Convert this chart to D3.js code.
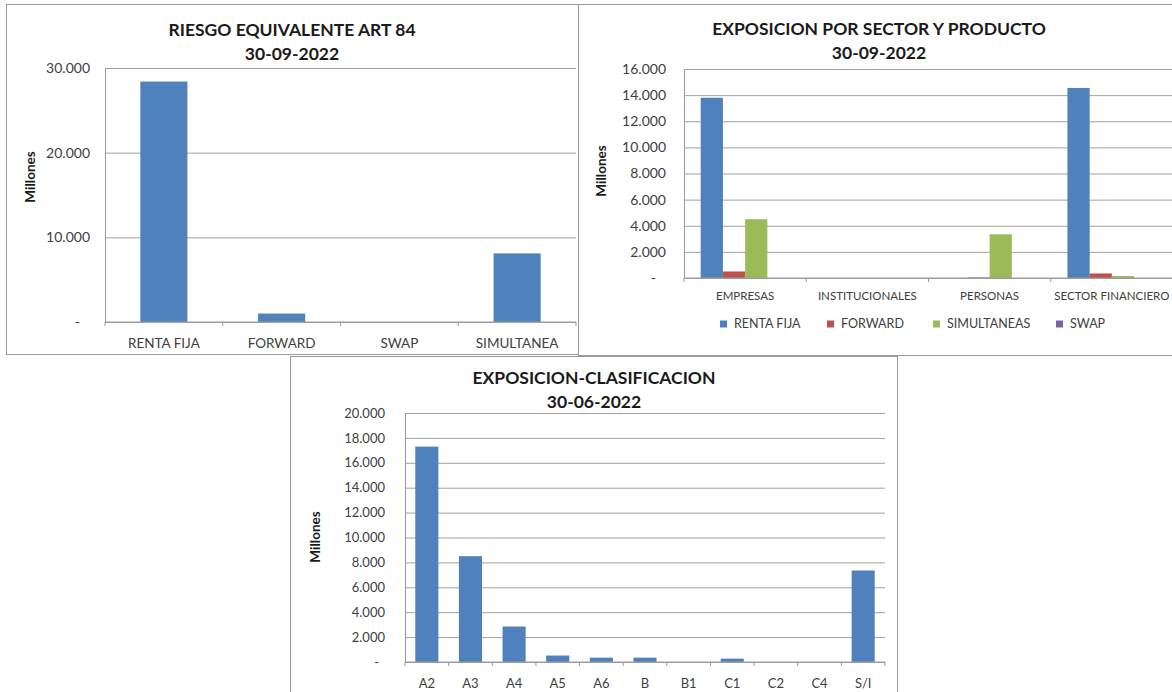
<!DOCTYPE html>
<html>
<head>
<meta charset="utf-8">
<script src="https://d3js.org/d3.v7.min.js"></script>
<style>
  body { margin: 0; background: #fff; }
  text { font-family: Lato, "Open Sans", sans-serif; }
</style>
</head>
<body>
<div id="chart"></div>
<script>
// Riesgo equivalente art 84 (millones)
const riesgoCats = ["RENTA FIJA", "FORWARD", "SWAP", "SIMULTANEA"];
const riesgoValues = [28400, 1000, 0, 8100];
const riesgoTicks = [0, 10000, 20000, 30000];

// Exposicion por sector y producto (millones)
const sectorCats = ["EMPRESAS", "INSTITUCIONALES", "PERSONAS", "SECTOR FINANCIERO"];
const productos = ["RENTA FIJA", "FORWARD", "SIMULTANEAS", "SWAP"];
const rentaFija = [13800, 0, 0, 14550];
const forward = [500, 0, 40, 350];
const simultaneas = [4500, 0, 3350, 150];
const swap = [0, 0, 0, 0];
const sectorTicks = [0, 2000, 4000, 6000, 8000, 10000, 12000, 14000, 16000];

// Exposicion por clasificacion (millones)
const clasifCats = ["A2", "A3", "A4", "A5", "A6", "B", "B1", "C1", "C2", "C4", "S/I"];
const clasifValues = [17300, 8500, 2850, 520, 350, 350, 0, 270, 0, 0, 7350];
const clasifTicks = [0, 2000, 4000, 6000, 8000, 10000, 12000, 14000, 16000, 18000, 20000];

const colors = ["#4F81BD", "#C0504D", "#9BBB59", "#8064A2"];
const fmtNum = d3.formatLocale({ decimal: ",", thousands: ".", grouping: [3], currency: ["$", ""] }).format(",.0f");

const svg = d3.select("#chart")
  .append("svg")
  .attr("width", 1172)
  .attr("height", 692);

svg.append("rect").attr("width", 1172).attr("height", 692).attr("fill", "#fff");

function drawChart(cfg) {
  const g = svg.append("g");

  // chart frame
  g.append("rect")
    .attr("x", cfg.frame[0]).attr("y", cfg.frame[1])
    .attr("width", cfg.frame[2]).attr("height", cfg.frame[3])
    .attr("fill", "#fff")
    .attr("stroke", "#9a9a9a");

  // title, two lines
  g.selectAll(".title")
    .data(cfg.title)
    .join("text")
    .attr("x", cfg.titleX)
    .attr("y", (_, i) => cfg.titleY + i * 24)
    .attr("text-anchor", "middle")
    .attr("font-size", "17.5px")
    .attr("font-weight", "bold")
    .attr("fill", "#1a1a1a")
    .text(d => d);

  const n = cfg.series.length;
  const pad = cfg.gap / (n + cfg.gap);
  const x0 = d3.scaleBand()
    .domain(cfg.categories)
    .range([cfg.left, cfg.right])
    .paddingInner(pad)
    .paddingOuter(pad / 2);
  const x1 = d3.scaleBand()
    .domain(cfg.series.map(s => s.name))
    .range([0, x0.bandwidth()]);
  const y = d3.scaleLinear()
    .domain([0, cfg.yMax])
    .range([cfg.bottom, cfg.top]);

  // gridlines + y labels
  const yAxis = g.append("g")
    .attr("transform", `translate(${cfg.left},0)`)
    .call(d3.axisLeft(y)
      .tickValues(cfg.ticks)
      .tickSize(-(cfg.right - cfg.left))
      .tickSizeOuter(0)
      .tickPadding(cfg.tickPad)
      .tickFormat(d => d === 0 ? "-" : fmtNum(d)));
  yAxis.select(".domain").attr("stroke", "#9a9a9a");
  yAxis.selectAll(".tick line").attr("stroke", "#a0a0a0");
  yAxis.selectAll(".tick text")
    .attr("font-size", cfg.tickFont)
    .attr("fill", "#404040")
    .filter(d => d === 0)
    .attr("dx", -cfg.dashShift);

  // y title
  g.append("text")
    .attr("transform", `translate(${cfg.yTitle[0]},${cfg.yTitle[1]}) rotate(-90)`)
    .attr("text-anchor", "middle")
    .attr("dy", "0.35em")
    .attr("font-size", "13.5px")
    .attr("font-weight", "bold")
    .attr("fill", "#1a1a1a")
    .text("Millones");

  // bars
  cfg.series.forEach(s => {
    g.selectAll(null)
      .data(s.values)
      .join("rect")
      .attr("x", (_, i) => x0(cfg.categories[i]) + x1(s.name))
      .attr("y", d => y(d))
      .attr("width", x1.bandwidth())
      .attr("height", d => cfg.bottom - y(d))
      .attr("fill", s.color);
  });

  // x axis line and tick marks between categories
  g.append("line")
    .attr("x1", cfg.left).attr("x2", cfg.right)
    .attr("y1", cfg.bottom).attr("y2", cfg.bottom)
    .attr("stroke", "#9a9a9a");
  g.selectAll(".xtick")
    .data(d3.range(cfg.categories.length + 1))
    .join("line")
    .attr("x1", i => cfg.left + i * x0.step())
    .attr("x2", i => cfg.left + i * x0.step())
    .attr("y1", cfg.bottom)
    .attr("y2", cfg.bottom + 4)
    .attr("stroke", "#9a9a9a");

  g.selectAll(".xlabel")
    .data(cfg.categories)
    .join("text")
    .attr("x", d => x0(d) + x0.bandwidth() / 2)
    .attr("y", cfg.labelY)
    .attr("text-anchor", "middle")
    .attr("font-size", cfg.catFont)
    .attr("fill", "#404040")
    .text(d => d);

  return g;
}

drawChart({
  frame: [6.5, 4.5, 572, 350],
  title: ["RIESGO EQUIVALENTE ART 84", "30-09-2022"],
  titleX: 292, titleY: 36,
  left: 105, right: 576, top: 68, bottom: 322,
  categories: riesgoCats,
  series: [{ name: "RIESGO", values: riesgoValues, color: colors[0] }],
  gap: 1.5,
  yMax: 30000, ticks: riesgoTicks,
  tickPad: 15, dashShift: 10, tickFont: "14px", catFont: "13.5px",
  yTitle: [30, 177],
  labelY: 348
});

const sector = drawChart({
  frame: [578.5, 4.5, 610, 351],
  title: ["EXPOSICION POR SECTOR Y PRODUCTO", "30-09-2022"],
  titleX: 879, titleY: 35,
  left: 684, right: 1173, top: 69, bottom: 278,
  categories: sectorCats,
  series: [
    { name: productos[0], values: rentaFija, color: colors[0] },
    { name: productos[1], values: forward, color: colors[1] },
    { name: productos[2], values: simultaneas, color: colors[2] },
    { name: productos[3], values: swap, color: colors[3] }
  ],
  gap: 1.5,
  yMax: 16000, ticks: sectorTicks,
  tickPad: 18, dashShift: 10, tickFont: "14px", catFont: "11.5px",
  yTitle: [601, 171],
  labelY: 300
});

// legend for sector chart
const legendX = [720, 827, 933, 1056];
const legend = sector.selectAll(".legend")
  .data(productos)
  .join("g")
  .attr("transform", (_, i) => `translate(${legendX[i]},324)`);
legend.append("rect")
  .attr("x", 0).attr("y", -3.5)
  .attr("width", 7).attr("height", 7)
  .attr("fill", (_, i) => colors[i]);
legend.append("text")
  .attr("x", 14)
  .attr("dy", "0.35em")
  .attr("font-size", "12.5px")
  .attr("fill", "#404040")
  .text(d => d);

drawChart({
  frame: [290.5, 356.5, 607, 340],
  title: ["EXPOSICION-CLASIFICACION", "30-06-2022"],
  titleX: 594, titleY: 384,
  left: 405, right: 885, top: 413, bottom: 662,
  categories: clasifCats,
  series: [{ name: "CLASIF", values: clasifValues, color: colors[0] }],
  gap: 0.89,
  yMax: 20000, ticks: clasifTicks,
  tickPad: 20, dashShift: 6, tickFont: "13px", catFont: "13px",
  yTitle: [315, 537],
  labelY: 688
});
</script>
</body>
</html>
